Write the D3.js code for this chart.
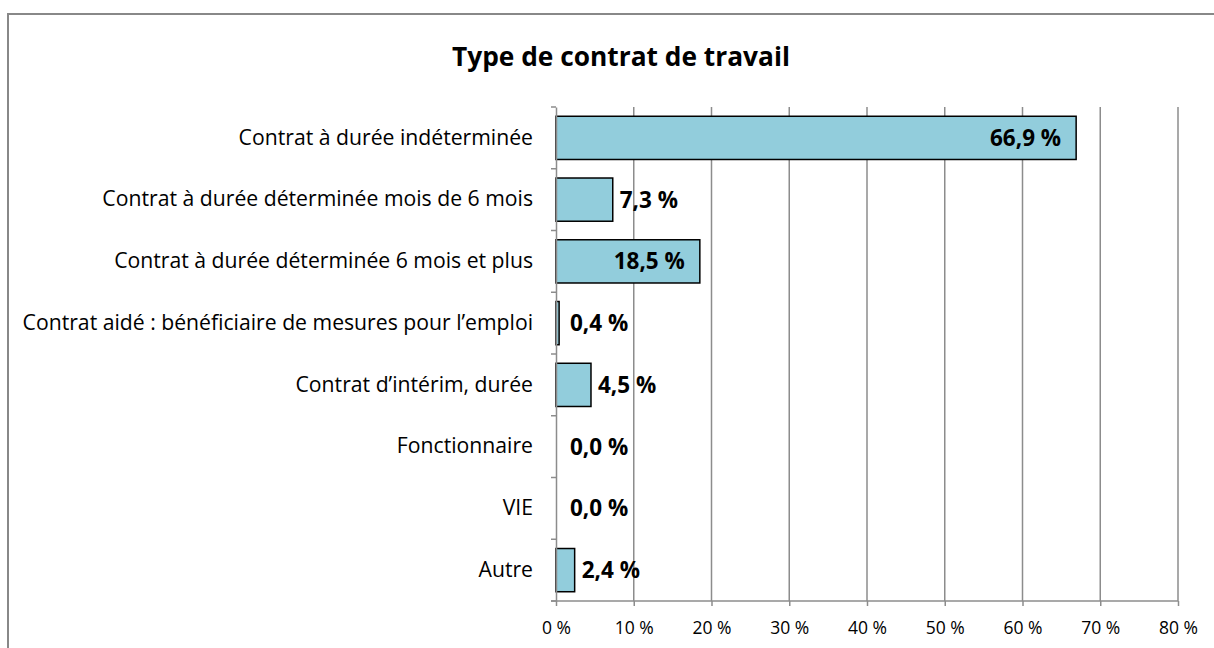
<!DOCTYPE html>
<html><head><meta charset="utf-8">
<script src="https://cdn.jsdelivr.net/npm/d3@7"></script>
<style>html,body{margin:0;padding:0;background:#fff;} svg{display:block;}</style>
</head><body>
<svg id="c" width="1214" height="648"></svg>
<script>
const categories = [
  "Contrat à durée indéterminée",
  "Contrat à durée déterminée mois de 6 mois",
  "Contrat à durée déterminée 6 mois et plus",
  "Contrat aidé : bénéficiaire de mesures pour l’emploi",
  "Contrat d’intérim, durée",
  "Fonctionnaire",
  "VIE",
  "Autre"
];
const values = [66.9, 7.3, 18.5, 0.4, 4.5, 0.0, 0.0, 2.4];
const labelInside = [true, false, true, false, false, false, false, false];
const xTicks = [0, 10, 20, 30, 40, 50, 60, 70, 80];
const title = "Type de contrat de travail";

const font = "'Open Sans', sans-serif";
const svg = d3.select("#c");
svg.append("rect").attr("x", 8).attr("y", 14).attr("width", 1220).attr("height", 650)
  .attr("fill", "#fff").attr("stroke", "#888").attr("stroke-width", 2);

svg.append("text").attr("x", 621).attr("y", 66).attr("text-anchor", "middle")
  .attr("font-family", font).attr("font-weight", "bold").attr("font-size", 26.3)
  .attr("fill", "#000").text(title);

const x = d3.scaleLinear().domain([0, 80]).range([556, 1178]);
const y = d3.scaleBand().domain(categories).range([107, 601]).paddingInner(0.3).paddingOuter(0.15);

// gridlines
svg.append("g").selectAll("line").data(xTicks.slice(1)).join("line")
  .attr("x1", d => x(d)).attr("x2", d => x(d)).attr("y1", 107).attr("y2", 601)
  .attr("stroke", "#8c8c8c").attr("stroke-width", 1.5);

// bars
svg.append("g").selectAll("rect").data(values).join("rect")
  .attr("x", x(0)).attr("y", (d, i) => y(categories[i]))
  .attr("width", d => x(d) - x(0)).attr("height", y.bandwidth())
  .attr("fill", d => d > 0 ? "#92CDDC" : "none")
  .attr("stroke", d => d > 0 ? "#000" : "none").attr("stroke-width", 1.5);

// x axis
const xAxis = d3.axisBottom(x).tickValues(xTicks).tickFormat(d => d + " %").tickSize(5).tickPadding(16);
const gx = svg.append("g").attr("transform", "translate(0,601)").call(xAxis);
gx.select(".domain").attr("stroke", "#8c8c8c").attr("stroke-width", 1.5).attr("d", "M551,0H1178");
gx.selectAll(".tick line").attr("stroke", "#8c8c8c").attr("stroke-width", 1.5);
gx.selectAll("text").attr("font-family", font).attr("font-size", 17.5).attr("fill", "#000");

// y axis
const yAxis = d3.axisLeft(y).tickSize(0).tickPadding(23);
const gy = svg.append("g").attr("transform", "translate(556,0)").call(yAxis);
gy.select(".domain").attr("stroke", "#8c8c8c").attr("stroke-width", 1.5);
gy.selectAll("text").attr("font-family", font).attr("font-size", 21.2).attr("fill", "#000");
svg.append("g").selectAll("line").data(d3.range(categories.length + 1)).join("line")
  .attr("x1", 551).attr("x2", 556)
  .attr("y1", i => 107 + i * (494 / categories.length)).attr("y2", i => 107 + i * (494 / categories.length))
  .attr("stroke", "#8c8c8c").attr("stroke-width", 1.5);

// data labels
svg.append("g").selectAll("text").data(values).join("text")
  .attr("x", (d, i) => labelInside[i] ? x(d) - 15 : Math.max(x(d) + 7, x(0) + 14))
  .attr("y", (d, i) => y(categories[i]) + y.bandwidth() / 2)
  .attr("dy", "0.36em")
  .attr("text-anchor", (d, i) => labelInside[i] ? "end" : "start")
  .attr("font-family", font).attr("font-weight", "bold").attr("font-size", 22.5).attr("fill", "#000")
  .text(d => d.toFixed(1).replace(".", ",") + " %");
</script>
</body></html>
